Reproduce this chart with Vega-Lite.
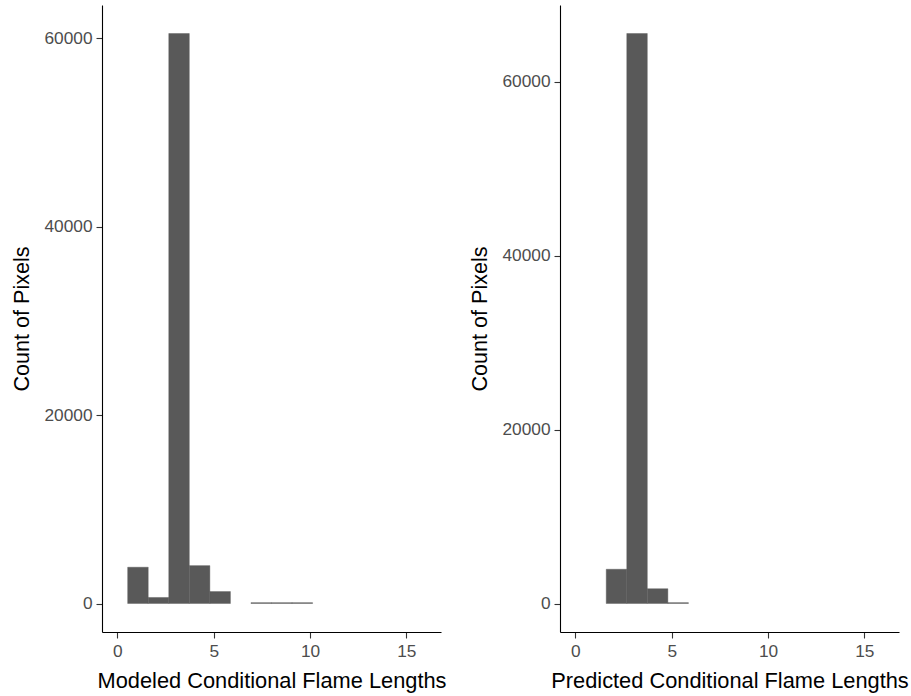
{
  "$schema": "https://vega.github.io/schema/vega-lite/v6.json",
  "padding": {"left": 11, "top": 5, "right": 5, "bottom": 3},
  "spacing": 23,
  "background": "white",
  "config": {
    "view": {"stroke": null},
    "font": "Liberation Sans",
    "axis": {
      "grid": false,
      "domainColor": "#000000",
      "domainWidth": 1.1,
      "tickColor": "#333333",
      "tickWidth": 1.1,
      "tickSize": 6,
      "labelFont": "Liberation Sans",
      "labelFontSize": 17.3,
      "labelColor": "#4D4D4D",
      "labelPadding": 4,
      "labelFlush": false,
      "titleFont": "Liberation Sans",
      "titleFontWeight": "normal",
      "titleColor": "#000000"
    },
    "axisX": {"titlePadding": 11, "titleFontSize": 21.8},
    "axisY": {"titlePadding": 10, "titleFontSize": 21.6}
  },
  "hconcat": [
    {
      "width": 339,
      "height": 627,
      "data": {"values": [
        {"bin_start": 0.533, "bin_end": 1.6, "count": 3850},
        {"bin_start": 1.6, "bin_end": 2.667, "count": 640},
        {"bin_start": 2.667, "bin_end": 3.733, "count": 60500},
        {"bin_start": 3.733, "bin_end": 4.8, "count": 4020},
        {"bin_start": 4.8, "bin_end": 5.867, "count": 1270},
        {"bin_start": 6.933, "bin_end": 8.0, "count": 90},
        {"bin_start": 8.0, "bin_end": 9.067, "count": 90},
        {"bin_start": 9.067, "bin_end": 10.133, "count": 90}
      ]},
      "mark": {"type": "bar", "color": "#595959", "stroke": "#595959", "strokeWidth": 0.4},
      "encoding": {
        "x": {"field": "bin_start", "type": "quantitative",
              "scale": {"domain": [-0.8, 16.8], "nice": false, "zero": false},
              "axis": {"values": [0, 5, 10, 15], "title": "Modeled Conditional Flame Lengths"}},
        "x2": {"field": "bin_end"},
        "y": {"field": "count", "type": "quantitative",
              "scale": {"domain": [-3025, 63525], "nice": false, "zero": false},
              "axis": {"values": [0, 20000, 40000, 60000], "format": "d", "title": "Count of Pixels"}},
        "y2": {"datum": 0}
      }
    },
    {
      "width": 339,
      "height": 627,
      "data": {"values": [
        {"bin_start": 1.6, "bin_end": 2.667, "count": 3940},
        {"bin_start": 2.667, "bin_end": 3.733, "count": 65580},
        {"bin_start": 3.733, "bin_end": 4.8, "count": 1700},
        {"bin_start": 4.8, "bin_end": 5.867, "count": 100}
      ]},
      "mark": {"type": "bar", "color": "#595959", "stroke": "#595959", "strokeWidth": 0.4},
      "encoding": {
        "x": {"field": "bin_start", "type": "quantitative",
              "scale": {"domain": [-0.8, 16.8], "nice": false, "zero": false},
              "axis": {"values": [0, 5, 10, 15], "title": "Predicted Conditional Flame Lengths"}},
        "x2": {"field": "bin_end"},
        "y": {"field": "count", "type": "quantitative",
              "scale": {"domain": [-3279, 68859], "nice": false, "zero": false},
              "axis": {"values": [0, 20000, 40000, 60000], "format": "d", "title": "Count of Pixels"}},
        "y2": {"datum": 0}
      }
    }
  ]
}
